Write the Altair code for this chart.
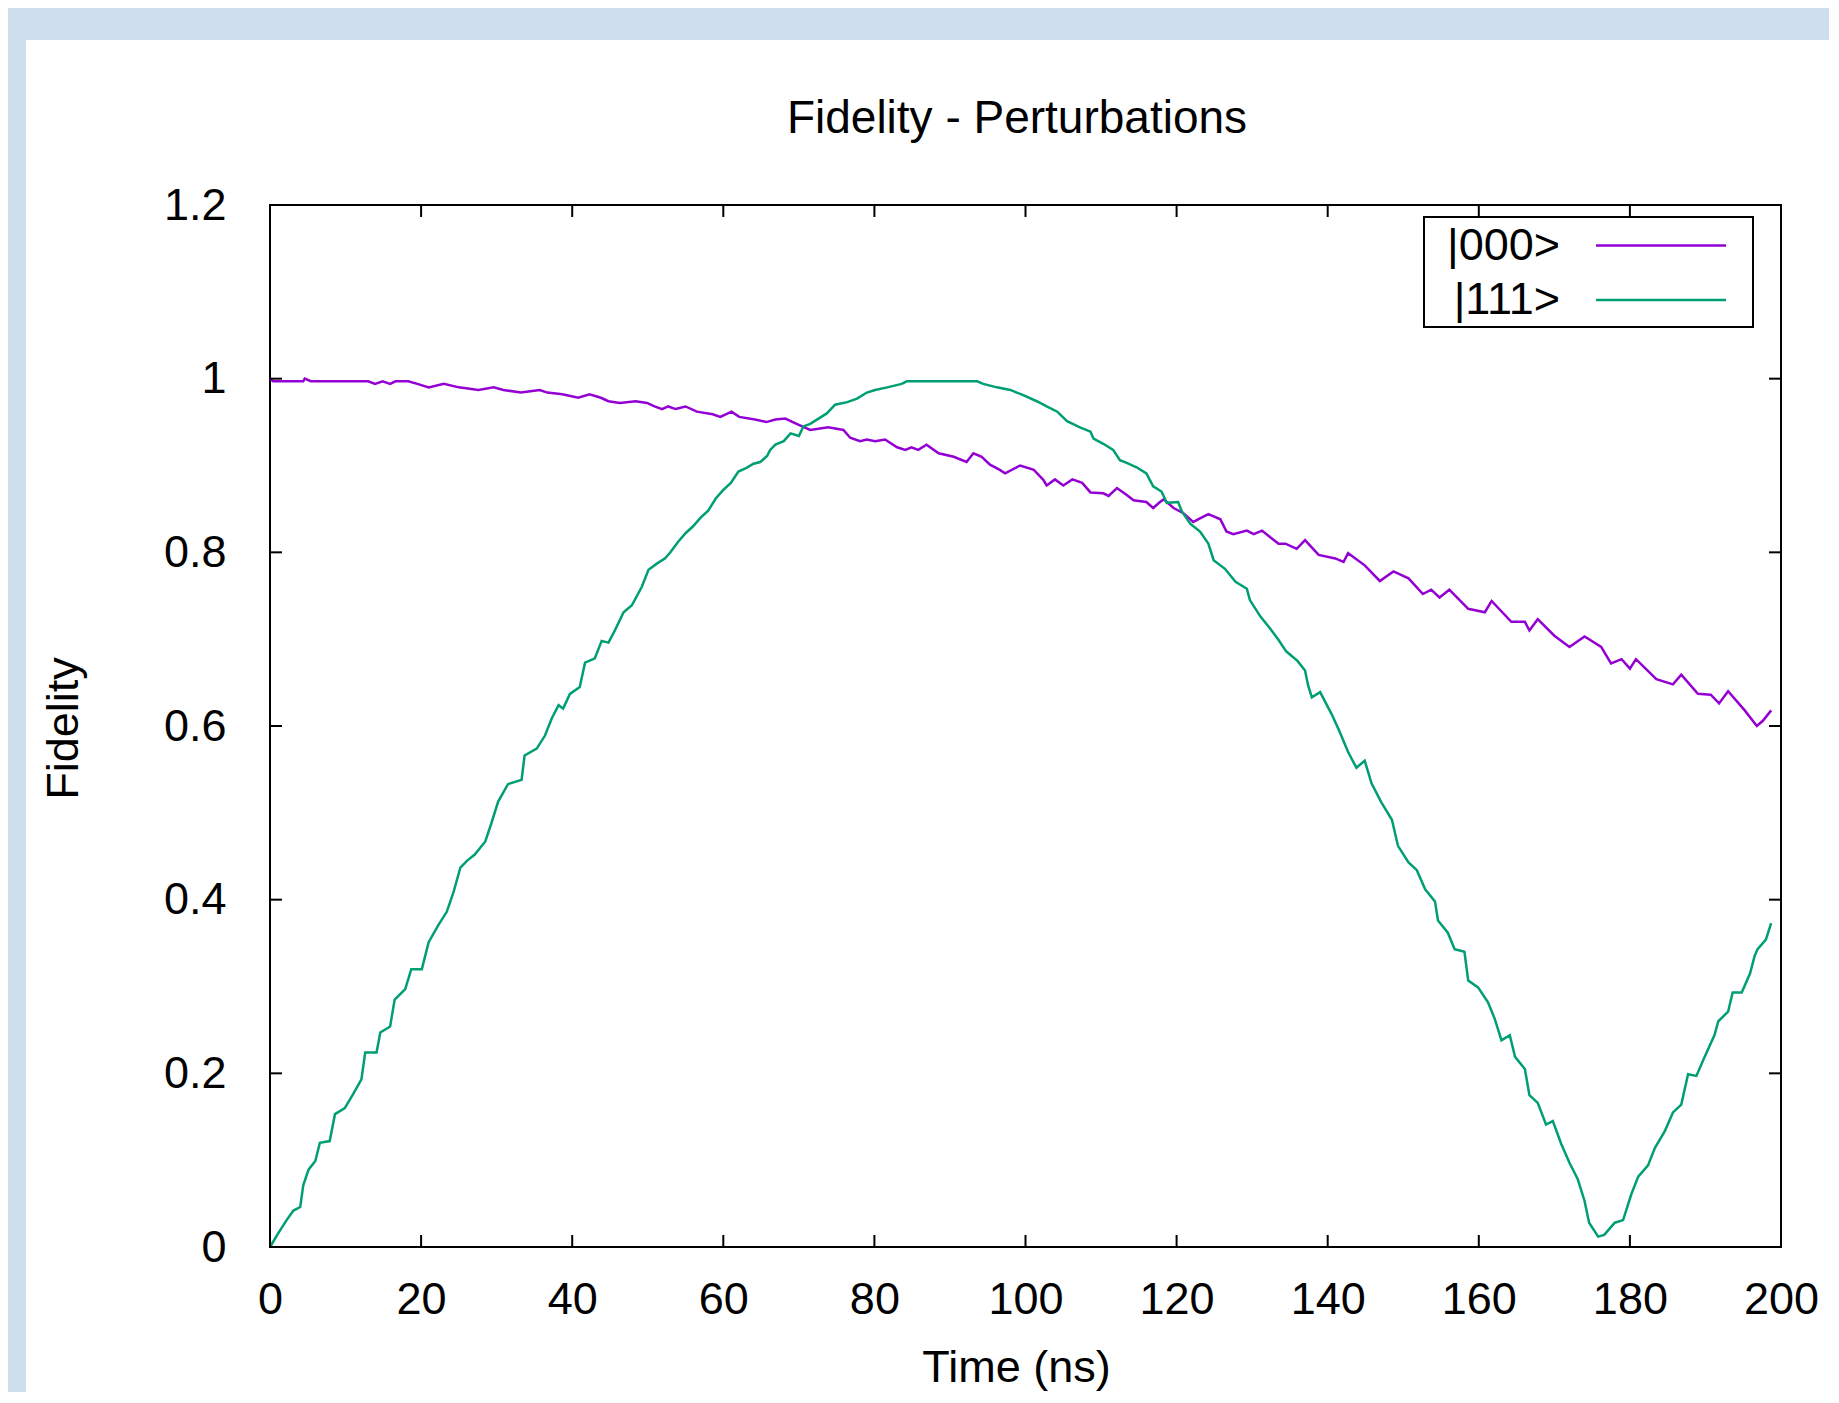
import altair as alt
import pandas as pd

# ---------------- data ----------------
series_names = ["|000>", "|111>"]
series_colors = ["#9400D3", "#009E73"]

t000 = [0, 0.4, 4.4, 4.6, 5.4, 13, 13.9, 14.9, 15.9, 16.6, 18.3, 19.5, 21, 23, 25, 27.6, 29.6, 30.9,
        33.2, 35.7, 36.7, 38.7, 40.8, 42.3, 43.8, 44.8, 46.3, 48.4, 49.9, 50.9, 51.9, 52.7, 53.7, 55,
        56.5, 58.6, 59.6, 61.1, 62.1, 64.2, 65.7, 66.9, 68.2, 69.7, 71.5, 73.9, 75.9, 76.8, 78.1, 79,
        80.1, 81.4, 83, 84.1, 84.9, 85.8, 86.9, 88.5, 90.5, 92.2, 93.1, 94.2, 95.3, 96.6, 97.3, 99.3,
        101.1, 102.4, 102.8, 103.9, 105, 106.2, 107.5, 108.6, 110.3, 111, 112.1, 113.4, 114.3, 116,
        116.9, 117.8, 118.3, 119.6, 120.9, 122.2, 123.1, 124.2, 125.8, 126.6, 127.5, 129.3, 130.2,
        131.3, 132.6, 133.5, 134.4, 135.9, 137, 138.8, 141, 142.1, 142.7, 144.9, 146.9, 148.7, 150.7,
        152.6, 153.7, 154.8, 156.1, 158.6, 160.8, 161.7, 164.3, 166.1, 166.7, 167.8, 170, 172, 174,
        176.2, 177.5, 178.9, 180, 180.8, 183.5, 185.7, 186.8, 189, 190.7, 191.8, 193, 195.2, 196.8,
        197.6, 198.7]
f000 = [1.0, 0.997, 0.997, 1.0, 0.997, 0.997, 0.994, 0.997, 0.994, 0.997, 0.997, 0.994, 0.990, 0.994,
        0.990, 0.987, 0.990, 0.987, 0.984, 0.987, 0.984, 0.982, 0.978, 0.982, 0.978, 0.974, 0.972,
        0.974, 0.972, 0.968, 0.965, 0.968, 0.965, 0.968, 0.962, 0.959, 0.956, 0.962, 0.956, 0.953,
        0.950, 0.953, 0.954, 0.948, 0.941, 0.944, 0.941, 0.932, 0.928, 0.930, 0.928, 0.930, 0.921,
        0.918, 0.921, 0.918, 0.924, 0.914, 0.910, 0.904, 0.914, 0.910, 0.901, 0.895, 0.891, 0.900,
        0.895, 0.883, 0.877, 0.884, 0.877, 0.884, 0.880, 0.869, 0.868, 0.865, 0.874, 0.866, 0.860,
        0.858, 0.851, 0.858, 0.861, 0.851, 0.845, 0.835, 0.839, 0.844, 0.838, 0.824, 0.821, 0.825,
        0.821, 0.825, 0.816, 0.810, 0.810, 0.804, 0.814, 0.797, 0.793, 0.789, 0.799, 0.785, 0.767,
        0.778, 0.770, 0.752, 0.757, 0.748, 0.757, 0.735, 0.731, 0.744, 0.720, 0.720, 0.710, 0.723,
        0.704, 0.691, 0.703, 0.691, 0.672, 0.677, 0.666, 0.677, 0.654, 0.648, 0.659, 0.637, 0.636,
        0.626, 0.640, 0.618, 0.600, 0.606, 0.618]

t111 = [0, 1.1, 2.2, 3.1, 4, 4.4, 5.1, 6, 6.6, 7.9, 8.6, 9.9, 11, 12.1, 12.6, 14.1, 14.6, 15.9, 16.5,
        17.9, 18.7, 20.1, 21, 22.3, 23.4, 24.3, 25.2, 26.1, 27.1, 28.5, 29.3, 30.2, 31.5, 33.3, 33.7,
        35.3, 36.4, 37.3, 38.2, 38.8, 39.7, 41, 41.7, 43, 43.9, 44.8, 45.7, 46.8, 47.9, 49.2, 50.1,
        51.2, 52.3, 53, 54, 55, 56, 57, 58, 59, 60, 61, 62, 63, 64, 64.9, 65.8, 66.2, 66.9, 68, 68.9,
        70, 70.6, 71.5, 72.6, 73.7, 74.8, 76.4, 77.7, 79, 80.1, 81.7, 83.6, 84.3, 93.6, 94.4, 96.2,
        98, 99.7, 101.5, 102.8, 104.2, 105.5, 107.2, 108.6, 109, 110.3, 111.6, 112.5, 113.4, 114.7,
        116, 116.9, 118, 118.7, 120.2, 120.7, 121.8, 123.1, 124.2, 124.9, 126.4, 127.8, 129.3, 129.7,
        131.1, 132.4, 133.5, 134.5, 136, 137, 137.4, 137.9, 139, 140.5, 141.4, 142.7, 143.8, 144.9,
        145.8, 147.1, 148.5, 149.3, 150.7, 151.8, 152.9, 154.2, 154.6, 155.9, 156.8, 158.1, 158.6,
        159.9, 161.2, 162.1, 163, 164.1, 164.8, 166.1, 166.7, 167.8, 168.9, 169.8, 170.9, 172, 173.1,
        174, 174.6, 175.8, 176.6, 178, 179.1, 180.2, 181.1, 182.4, 183.3, 184.6, 185.7, 186.8, 187.7,
        188.8, 189.9, 191.2, 191.7, 193, 193.6, 194.8, 195.9, 196.5, 196.9, 198, 198.7]
f111 = [0.0, 0.016, 0.031, 0.042, 0.046, 0.071, 0.089, 0.099, 0.12, 0.122, 0.153, 0.160, 0.176, 0.193,
        0.224, 0.224, 0.247, 0.254, 0.285, 0.297, 0.32, 0.32, 0.351, 0.371, 0.386, 0.409, 0.437, 0.445,
        0.452, 0.467, 0.488, 0.513, 0.533, 0.538, 0.566, 0.574, 0.589, 0.609, 0.624, 0.62, 0.637,
        0.645, 0.673, 0.678, 0.698, 0.696, 0.711, 0.731, 0.739, 0.760, 0.780, 0.787, 0.793, 0.80,
        0.812, 0.822, 0.83, 0.84, 0.848, 0.862, 0.872, 0.88, 0.893, 0.897, 0.902, 0.904, 0.911, 0.918,
        0.924, 0.928, 0.937, 0.934, 0.945, 0.948, 0.954, 0.960, 0.970, 0.973, 0.977, 0.984, 0.987,
        0.990, 0.994, 0.997, 0.997, 0.994, 0.990, 0.987, 0.981, 0.974, 0.968, 0.962, 0.951, 0.944,
        0.939, 0.931, 0.925, 0.918, 0.906, 0.903, 0.898, 0.891, 0.876, 0.870, 0.857, 0.858, 0.847,
        0.833, 0.824, 0.810, 0.791, 0.781, 0.766, 0.758, 0.745, 0.726, 0.712, 0.699, 0.686, 0.675,
        0.664, 0.647, 0.633, 0.639, 0.614, 0.597, 0.570, 0.552, 0.560, 0.534, 0.512, 0.492, 0.462,
        0.443, 0.434, 0.412, 0.398, 0.376, 0.362, 0.343, 0.340, 0.307, 0.299, 0.282, 0.263, 0.238,
        0.244, 0.219, 0.205, 0.175, 0.166, 0.141, 0.145, 0.119, 0.097, 0.078, 0.053, 0.028, 0.012,
        0.014, 0.028, 0.031, 0.061, 0.081, 0.094, 0.114, 0.133, 0.155, 0.164, 0.199, 0.197, 0.219,
        0.244, 0.260, 0.271, 0.293, 0.293, 0.315, 0.335, 0.343, 0.354, 0.373]

x_ticks = [0, 20, 40, 60, 80, 100, 120, 140, 160, 180, 200]
y_ticks = [0, 0.2, 0.4, 0.6, 0.8, 1.0, 1.2]

chart_title = "Fidelity - Perturbations"
x_title = "Time (ns)"
y_title = "Fidelity"

# ---------------- layout constants ----------------
W, H = 1511, 1042
PAD = {"left": 262, "top": 197, "right": 48, "bottom": 145}
FONT = "Liberation Sans"
FS = 45
TICK = 12
BAND = "#CFDEED"

df = pd.concat([
    pd.DataFrame({"t": t000, "f": f000, "series": series_names[0]}),
    pd.DataFrame({"t": t111, "f": f111, "series": series_names[1]}),
], ignore_index=True)

xscale = alt.Scale(domain=[0, 200], nice=False, zero=False)
yscale = alt.Scale(domain=[0, 1.2], nice=False, zero=False)
cscale = alt.Scale(domain=series_names, range=series_colors)

one = pd.DataFrame({"k": [0]})

lines = alt.Chart(df).mark_line(strokeWidth=2.5).encode(
    x=alt.X("t:Q", scale=xscale, title=x_title,
            axis=alt.Axis(values=x_ticks, labelPadding=30, titleX=746, titleY=134)),
    y=alt.Y("f:Q", scale=yscale, title=y_title,
            axis=alt.Axis(values=y_ticks, format="~g", labelPadding=44, titleAngle=270,
                          titleX=-193, titleY=523)),
    color=alt.Color("series:N", scale=cscale, legend=None),
    detail="series:N",
)

# decorative page bands (blue frame of the screenshot)
band_top = alt.Chart(one).mark_rect(color=BAND).encode(
    x=alt.value(-PAD["left"]), x2=alt.value(W + PAD["right"]),
    y=alt.value(-PAD["top"]), y2=alt.value(-165))
band_left = alt.Chart(one).mark_rect(color=BAND).encode(
    x=alt.value(-PAD["left"]), x2=alt.value(-244),
    y=alt.value(-PAD["top"]), y2=alt.value(H + PAD["bottom"]))

xt = pd.DataFrame({"t": x_ticks})
yt = pd.DataFrame({"f": y_ticks})
tick_bottom = alt.Chart(xt).mark_rule(color="black", strokeWidth=2).encode(
    x=alt.X("t:Q", scale=xscale), y=alt.value(H - TICK), y2=alt.value(H))
tick_top = alt.Chart(xt).mark_rule(color="black", strokeWidth=2).encode(
    x=alt.X("t:Q", scale=xscale), y=alt.value(0), y2=alt.value(TICK))
tick_left = alt.Chart(yt).mark_rule(color="black", strokeWidth=2).encode(
    y=alt.Y("f:Q", scale=yscale), x=alt.value(0), x2=alt.value(TICK))
tick_right = alt.Chart(yt).mark_rule(color="black", strokeWidth=2).encode(
    y=alt.Y("f:Q", scale=yscale), x=alt.value(W - TICK), x2=alt.value(W))

title_txt = alt.Chart(one).mark_text(
    text=chart_title, font=FONT, fontSize=46, color="black",
    align="center", baseline="alphabetic").encode(x=alt.value(747), y=alt.value(-72))

# gnuplot-style key: label on the left, line sample on the right, boxed
legend_box = alt.Chart(one).mark_rect(fillOpacity=0, stroke="black", strokeWidth=2).encode(
    x=alt.value(1154), x2=alt.value(1483), y=alt.value(12), y2=alt.value(122))
legend_layers = []
for i, (name, col) in enumerate(zip(series_names, series_colors)):
    ly = 40.5 + i * 54.5
    legend_layers.append(alt.Chart(one).mark_text(
        text=name, font=FONT, fontSize=FS, color="black", align="right",
        baseline="middle").encode(x=alt.value(1290), y=alt.value(ly)))
    legend_layers.append(alt.Chart(one).mark_rule(color=col, strokeWidth=2.5).encode(
        x=alt.value(1326), x2=alt.value(1456), y=alt.value(ly)))

chart = alt.layer(
    lines, band_top, band_left, tick_bottom, tick_top, tick_left, tick_right,
    title_txt, legend_box, *legend_layers
).properties(
    width=W, height=H,
    autosize=alt.AutoSizeParams(type="none"),
    padding=PAD,
    background="white",
).configure_view(
    stroke="black", strokeWidth=2
).configure_axis(
    grid=False, ticks=False, domain=False,
    labelFont=FONT, labelFontSize=FS, labelColor="black",
    labelFlush=False, labelOverlap=False,
    titleFont=FONT, titleFontSize=FS, titleFontWeight="normal", titleColor="black",
    titleBaseline="alphabetic", titleAlign="center",
)

chart.save("out.html", embed_options={"renderer": "svg", "actions": False})
